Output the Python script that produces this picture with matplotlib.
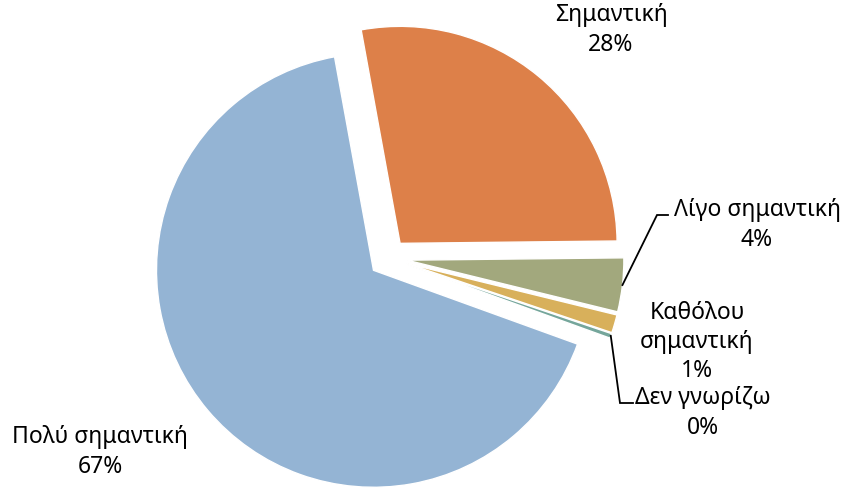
import matplotlib
matplotlib.use("Agg")
import matplotlib.pyplot as plt
import numpy as np

plt.rcParams['font.family'] = ['Noto Sans', 'DejaVu Sans']

categories = ["Πολύ σημαντική", "Σημαντική", "Λίγο σημαντική",
              "Καθόλου σημαντική", "Δεν γνωρίζω"]
values = [66.6, 27.7, 4.0, 1.35, 0.35]
colors = ["#94B4D4", "#DD8049", "#A2A87D", "#D8B05B", "#75A69B"]
label_text = ["Πολύ σημαντική", "Σημαντική", "Λίγο σημαντική",
              "Καθόλου\nσημαντική", "Δεν γνωρίζω"]

W, H = 846, 491
fig = plt.figure(figsize=(W / 100, H / 100), dpi=100)
ax = fig.add_axes([0, 0, 1, 1])

R = 217
cx, cy = 388, H - 258
wedges, _ = ax.pie(values, colors=colors, radius=R, center=(cx, cy),
                   explode=[19] * len(values), startangle=-19.9,
                   counterclock=False, frame=True,
                   wedgeprops=dict(edgecolor='white', linewidth=1.0))
ax.set_xlim(0, W)
ax.set_ylim(0, H)
ax.set_aspect('equal')
ax.axis('off')

total = sum(values)
pcts = [f"{v / total * 100:.0f}%" for v in values]

# label centres (pixel coords from top-left)
label_pos = [(100, 452), (611, 30), (757, 225), (697, 342), (703, 413)]
fs = 16.5
for i, (x, y) in enumerate(label_pos):
    ax.text(x, H - y, label_text[i] + "\n" + pcts[i], ha='center', va='center',
            fontsize=fs, color='black', linespacing=1.3)

def rim_point(w):
    mid = np.deg2rad((w.theta1 + w.theta2) / 2)
    return (w.center[0] + w.r * np.cos(mid), w.center[1] + w.r * np.sin(mid))

# leader line for "Λίγο σημαντική"
px, py = rim_point(wedges[2])
ax.plot([px, 657, 668], [py, H - 215, H - 215], color='black', lw=1.3,
        solid_joinstyle='miter')
# leader line for "Δεν γνωρίζω"
px, py = rim_point(wedges[4])
ax.plot([px, 620, 633], [py, H - 403, H - 403], color='black', lw=1.3,
        solid_joinstyle='miter')

fig.savefig("out.png", dpi=100, facecolor='white')
